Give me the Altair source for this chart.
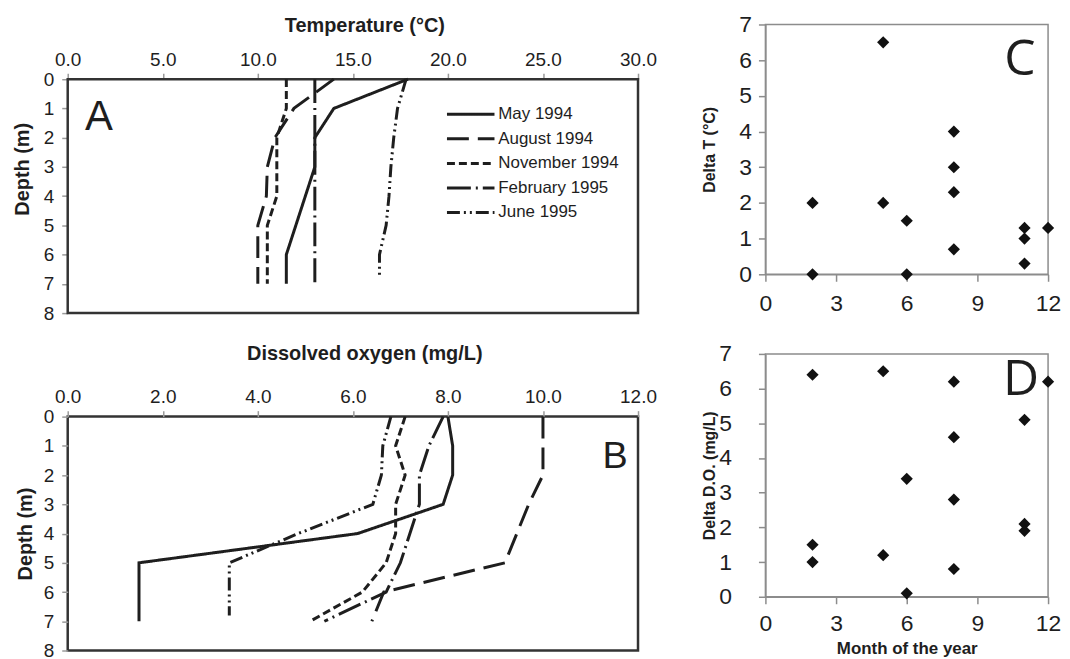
import altair as alt
import pandas as pd

# ---------------- data ----------------
series = ["May 1994", "August 1994", "November 1994", "February 1995", "June 1995"]

depth_std = [0, 1, 2, 3, 4, 5, 6, 7]

# Panel A - temperature profiles (deg C)
temp_may94_depth = [0, 1, 2, 3, 6, 7]
temp_may94 = [17.9, 14.0, 13.0, 13.0, 11.5, 11.5]
temp_aug94 = [14.0, 11.9, 10.9, 10.5, 10.45, 10.0, 10.0, 10.0]
temp_nov94 = [11.5, 11.5, 11.0, 11.0, 11.0, 10.5, 10.5, 10.5]
temp_feb95 = [13.0, 13.0, 13.0, 13.0, 13.0, 13.0, 13.0, 13.0]
temp_jun95_depth = [0, 1, 2, 3, 4, 5, 6, 6.8]
temp_jun95 = [17.8, 17.35, 17.15, 17.0, 16.9, 16.75, 16.4, 16.4]

# Panel B - dissolved oxygen profiles (mg/L)
do_may94 = [8.0, 8.1, 8.1, 7.9, 6.1, 1.5, 1.5, 1.5]
do_aug94 = [10.0, 10.0, 10.0, 9.7, 9.45, 9.2, 6.65, 6.4]
do_nov94 = [7.1, 6.9, 7.1, 6.9, 6.9, 6.7, 6.2, 5.1]
do_feb95 = [7.9, 7.6, 7.4, 7.4, 7.2, 7.0, 6.7, 5.4]
do_jun95_depth = [0, 1, 2, 3, 4, 5, 6, 6.8]
do_jun95 = [6.8, 6.63, 6.6, 6.42, 4.85, 3.4, 3.4, 3.4]

# Panel C - Delta T by month
month_c = [2, 2, 5, 5, 6, 6, 8, 8, 8, 8, 11, 11, 11, 12]
delta_t = [2.0, 0.0, 6.5, 2.0, 1.5, 0.0, 4.0, 3.0, 2.3, 0.7, 1.3, 1.0, 0.3, 1.3]

# Panel D - Delta D.O. by month
month_d = [2, 2, 2, 5, 5, 6, 6, 8, 8, 8, 8, 11, 11, 11, 12]
delta_do = [6.4, 1.5, 1.0, 6.5, 1.2, 3.4, 0.1, 6.2, 4.6, 2.8, 0.8, 5.1, 2.1, 1.9, 6.2]

# panel letters (placed in each panel's own data units)
panel_letters = ["A", "B", "C", "D"]
letter_x = [1.64, 11.52, 10.8, 10.85]
letter_y = [1.3, 1.38, 6.0, 6.25]

temp_ticks = [0, 5, 10, 15, 20, 25, 30]
do_ticks = [0, 2, 4, 6, 8, 10, 12]
depth_ticks = [0, 1, 2, 3, 4, 5, 6, 7, 8]
month_ticks = [0, 3, 6, 9, 12]
delta_ticks = [0, 1, 2, 3, 4, 5, 6, 7]


def profiles(depth_lists, value_lists, field):
    rows = []
    for s, ds, vs in zip(series, depth_lists, value_lists):
        for d, v in zip(ds, vs):
            rows.append({"series": s, "depth": d, field: v})
    return pd.DataFrame(rows)


dfA = profiles([temp_may94_depth, depth_std, depth_std, depth_std, temp_jun95_depth],
               [temp_may94, temp_aug94, temp_nov94, temp_feb95, temp_jun95], "temp")
dfB = profiles([depth_std, depth_std, depth_std, depth_std, do_jun95_depth],
               [do_may94, do_aug94, do_nov94, do_feb95, do_jun95], "do")
dfC = pd.DataFrame({"month": month_c, "dt": delta_t})
dfD = pd.DataFrame({"month": month_d, "ddo": delta_do})

# ---------------- styles ----------------
FONT = "Liberation Sans"
INK = "#1e1e1e"
TICK = "#9a9a9a"
FRAME = "#333333"
GRAYFRAME = "#8c8c8c"

dash_scale = alt.Scale(domain=series,
                       range=[[1, 0], [22, 9], [8, 4], [24, 5, 2, 5], [13, 4, 2, 4, 2, 4]])
width_scale = alt.Scale(domain=series, range=[3, 3, 3, 3, 1.3])

dash_enc = alt.StrokeDash("series:N", scale=dash_scale, legend=None)
width_enc = alt.StrokeWidth("series:N", scale=width_scale, legend=None)

TOP_TITLE_X = 298     # top-axis titles sit a little right of the panel centre


def depth_axis(title_pad):
    return alt.Axis(values=depth_ticks, title="Depth (m)", titleFont=FONT, titleFontSize=20,
                    titleFontWeight="bold", titleColor=INK, titlePadding=title_pad,
                    labelFont=FONT, labelFontSize=19, labelColor=INK, labelPadding=8,
                    labelOverlap=False, labelSeparation=0, tickColor=TICK, tickSize=6,
                    tickWidth=1.5, domain=False, grid=False, labelFlush=False)


def top_axis(values, title, label_pad, title_pad, offset=0):
    return alt.Axis(orient="top", values=values, format=".1f", title=title, titleFont=FONT,
                    titleFontSize=20, titleFontWeight="bold", titleColor=INK,
                    titlePadding=title_pad, titleX=TOP_TITLE_X, titleAlign="center",
                    labelFont=FONT, labelFontSize=19, labelColor=INK,
                    labelPadding=label_pad, labelOverlap=False, tickColor=TICK, tickSize=6,
                    tickWidth=1.5, domain=False, grid=False, labelFlush=False, offset=offset)


def letter_layer(i, xfield, yfield, xscale, yscale, xaxis, yaxis, font, size):
    df = pd.DataFrame({xfield: [letter_x[i]], yfield: [letter_y[i]],
                       "label": [panel_letters[i]]})
    return alt.Chart(df).mark_text(font=font, fontSize=size, color=INK, align="center",
                                   baseline="middle").encode(
        x=alt.X(f"{xfield}:Q", scale=xscale, axis=xaxis),
        y=alt.Y(f"{yfield}:Q", scale=yscale, axis=yaxis),
        text="label:N",
    )


def frame_layer(xfield, yfield, x0, x1, y0, y1, xscale, yscale, xaxis, yaxis):
    df = pd.DataFrame({xfield: [x0], xfield + "2": [x1], yfield: [y0], yfield + "2": [y1]})
    return alt.Chart(df).mark_rect(fillOpacity=0, stroke=FRAME, strokeWidth=2.5).encode(
        x=alt.X(f"{xfield}:Q", scale=xscale, axis=xaxis), x2=f"{xfield}2:Q",
        y=alt.Y(f"{yfield}:Q", scale=yscale, axis=yaxis), y2=f"{yfield}2:Q",
    )


# ---------------- panel A ----------------
# Panel A's plot area starts higher (level with panel C); the extra depth range above 0
# is blank and the top axis is pulled down onto depth 0.
A_W = 573
A_EXT = 1.87          # blank depth range above the surface
A_H = 290
A_AXIS_SHIFT = A_H * A_EXT / (8 + A_EXT)

xA_scale = alt.Scale(domain=[0, 30], nice=False)
yA_scale = alt.Scale(domain=[-A_EXT, 8], reverse=True, nice=False, zero=False)
xA_axis = top_axis(temp_ticks, "Temperature (°C)", 4, 15, offset=-A_AXIS_SHIFT)
yA_axis = depth_axis(11)

linesA = alt.Chart(dfA).mark_line(color=INK, strokeCap="butt", strokeJoin="miter").encode(
    x=alt.X("temp:Q", scale=xA_scale, axis=xA_axis),
    y=alt.Y("depth:Q", scale=yA_scale, axis=yA_axis),
    strokeDash=dash_enc, strokeWidth=width_enc,
    detail="series:N", order=alt.Order("depth:Q"),
)
frameA = frame_layer("temp", "depth", 0, 30, 0, 8, xA_scale, yA_scale, xA_axis, yA_axis)

# in-plot legend, positioned in data units of panel A
leg_x0, leg_x1, leg_tx = 19.95, 22.45, 22.65
leg_y0, leg_dy = 1.2, 0.84
legend_df = pd.DataFrame({
    "series": series,
    "temp": [leg_x0] * len(series),
    "temp2": [leg_x1] * len(series),
    "tx": [leg_tx] * len(series),
    "depth": [leg_y0 + i * leg_dy for i in range(len(series))],
})
legRules = alt.Chart(legend_df).mark_rule(color=INK, strokeCap="butt").encode(
    x=alt.X("temp:Q", scale=xA_scale, axis=xA_axis), x2="temp2:Q",
    y=alt.Y("depth:Q", scale=yA_scale, axis=yA_axis),
    strokeDash=dash_enc, strokeWidth=width_enc,
)
legText = alt.Chart(legend_df).mark_text(align="left", baseline="middle", font=FONT,
                                         fontSize=17, color=INK).encode(
    x=alt.X("tx:Q", scale=xA_scale, axis=xA_axis),
    y=alt.Y("depth:Q", scale=yA_scale, axis=yA_axis),
    text="series:N",
)
letterA = letter_layer(0, "temp", "depth", xA_scale, yA_scale, xA_axis, yA_axis, FONT, 42)

panelA = alt.layer(frameA, linesA, legRules, legText, letterA).properties(
    width=A_W, height=A_H)

# ---------------- panel B ----------------
xB_scale = alt.Scale(domain=[0, 12], nice=False)
yB_scale = alt.Scale(domain=[0, 8], reverse=True, nice=False, zero=False)
xB_axis = top_axis(do_ticks, "Dissolved oxygen (mg/L)", 4, 24)
yB_axis = depth_axis(8)
linesB = alt.Chart(dfB).mark_line(color=INK, strokeCap="butt", strokeJoin="miter").encode(
    x=alt.X("do:Q", scale=xB_scale, axis=xB_axis),
    y=alt.Y("depth:Q", scale=yB_scale, axis=yB_axis),
    strokeDash=dash_enc, strokeWidth=width_enc,
    detail="series:N", order=alt.Order("depth:Q"),
)
letterB = letter_layer(1, "do", "depth", xB_scale, yB_scale, xB_axis, yB_axis, FONT, 38)
panelB = alt.layer(linesB, letterB).properties(
    width=A_W, height=235, view=alt.ViewBackground(stroke=FRAME, strokeWidth=2.5))


# ---------------- panels C & D ----------------
def month_axis(title, label_pad, title_pad):
    kw = dict(values=month_ticks, labelFont=FONT, labelFontSize=23, labelColor=INK,
              labelPadding=label_pad, labelOverlap=False, tickColor=GRAYFRAME, tickSize=7,
              tickWidth=1.5, domainColor=GRAYFRAME, domainWidth=1.5, grid=False,
              labelFlush=False)
    if title:
        return alt.Axis(title=title, titleFont=FONT, titleFontSize=17, titleFontWeight="bold",
                        titleColor=INK, titlePadding=title_pad, **kw)
    return alt.Axis(title=None, **kw)


def delta_axis(title, label_pad, title_pad):
    return alt.Axis(values=delta_ticks, title=title, titleFont=FONT, titleFontSize=16,
                    titleFontWeight="bold", titleColor=INK, titlePadding=title_pad,
                    labelFont=FONT, labelFontSize=23, labelColor=INK, labelPadding=label_pad,
                    labelOverlap=False, labelSeparation=0, tickColor=GRAYFRAME, tickSize=7,
                    tickWidth=1.5, domainColor=GRAYFRAME, domainWidth=1.5, grid=False,
                    labelFlush=False)


month_scale = alt.Scale(domain=[0, 12], nice=False)
delta_scale = alt.Scale(domain=[0, 7], nice=False)

xC_axis = month_axis(None, 11, 0)
yC_axis = delta_axis("Delta T (°C)", 7, 21)
ptsC = alt.Chart(dfC).mark_point(shape="diamond", filled=True, size=150, color="#111111",
                                 opacity=1).encode(
    x=alt.X("month:Q", scale=month_scale, axis=xC_axis),
    y=alt.Y("dt:Q", scale=delta_scale, axis=yC_axis),
)
letterC = letter_layer(2, "month", "dt", month_scale, delta_scale, xC_axis, yC_axis,
                       "Open Sans", 50)
panelC = alt.layer(ptsC, letterC).properties(
    width=284, height=251, view=alt.ViewBackground(stroke=GRAYFRAME, strokeWidth=1.5))

xD_axis = month_axis("Month of the year", 9, 5)
yD_axis = delta_axis("Delta D.O. (mg/L)", 27, 1)
ptsD = alt.Chart(dfD).mark_point(shape="diamond", filled=True, size=150, color="#111111",
                                 opacity=1).encode(
    x=alt.X("month:Q", scale=month_scale, axis=xD_axis),
    y=alt.Y("ddo:Q", scale=delta_scale, axis=yD_axis),
)
letterD = letter_layer(3, "month", "ddo", month_scale, delta_scale, xD_axis, yD_axis,
                       "Open Sans", 50)
panelD = alt.layer(ptsD, letterD).properties(
    width=284, height=244, view=alt.ViewBackground(stroke=GRAYFRAME, strokeWidth=1.5))

left = alt.concat(panelA, panelB, columns=1, spacing=19, align="none").resolve_scale(
    x="independent", y="independent")
right = alt.concat(panelC, panelD, columns=1, spacing=26, align="none").resolve_scale(
    x="independent", y="independent")

chart = alt.concat(left, right, columns=2, spacing=43, align="none").resolve_scale(
    x="independent", y="independent").properties(
    padding={"left": 4, "top": 3, "right": 0, "bottom": 0}
).configure_view(stroke=None)

chart.save("out.html", embed_options={"renderer": "svg", "actions": False})
